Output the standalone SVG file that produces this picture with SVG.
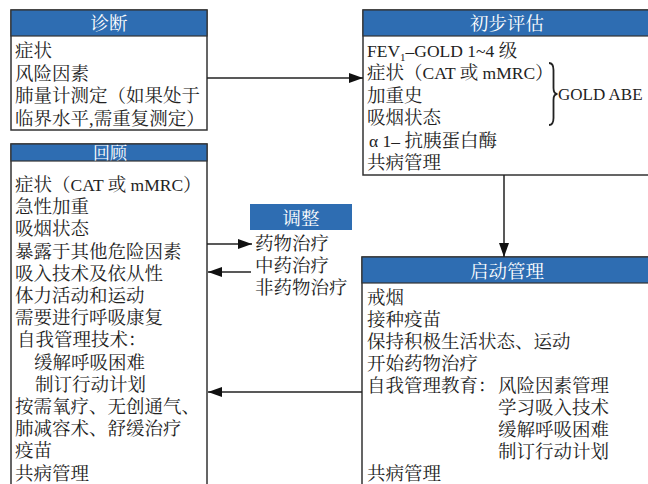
<svg xmlns="http://www.w3.org/2000/svg" width="648" height="484" viewBox="0 0 648 484">
<style>
.box{fill:#ffffff;stroke:#333333;stroke-width:1.5}
.hdr{fill:#2e6db2;stroke:#333333;stroke-width:1.2}
.hdr2{fill:#2e6db2}
.ht{fill:#ffffff;font-family:"Liberation Serif","Noto Serif CJK SC","Noto Sans CJK SC",serif;font-size:18.5px;text-anchor:middle}
.t{fill:#222222;font-family:"Liberation Serif","Noto Serif CJK SC","Noto Sans CJK SC",serif;font-size:18.5px}
.lat{font-size:17.5px}
.conn{stroke:#222222;stroke-width:1.5;fill:none}
</style>
<defs>
<marker id="ah" viewBox="0 0 14 10" refX="14" refY="5" markerWidth="14" markerHeight="10" markerUnits="userSpaceOnUse" orient="auto">
<path d="M0,0 L14,5 L0,10 Z" fill="#111111"/>
</marker>
</defs>
<rect width="648" height="484" fill="#ffffff"/>

<g id="diagnosis">
<rect class="box" x="11" y="10" width="196" height="120"/>
<rect class="hdr" x="11" y="10" width="196" height="26"/>
<text class="ht" x="109" y="30">诊断</text>
<text class="t" x="15" y="57">症状</text>
<text class="t" x="15" y="79.5">风险因素</text>
<text class="t" x="15" y="102">肺量计测定（如果处于</text>
<text class="t" x="15" y="124.5">临界水平,需重复测定）</text>
</g>

<g id="initial-assessment">
<rect class="box" x="363" y="10" width="292" height="165"/>
<rect class="hdr" x="363" y="10" width="292" height="26"/>
<text class="ht" x="507" y="30">初步评估</text>
<text class="t" x="367" y="57"><tspan class="lat">FEV</tspan><tspan font-size="11" dy="4">1</tspan><tspan class="lat" dy="-4">–GOLD 1~4 </tspan>级</text>
<text class="t" x="367" y="79.4">症状（<tspan class="lat">CAT </tspan>或<tspan class="lat"> mMRC</tspan>）</text>
<text class="t" x="367" y="101.8">加重史</text>
<text class="t" x="367" y="124.2">吸烟状态</text>
<text class="t" x="369" y="146.6"><tspan class="lat">α 1– </tspan>抗胰蛋白酶</text>
<text class="t" x="367" y="169">共病管理</text>
<path d="M549,63 Q553.5,63 553.5,70 L553.5,88 Q553.5,94 557.5,94 Q553.5,94 553.5,100 L553.5,118 Q553.5,125 549,125" fill="none" stroke="#222222" stroke-width="1.8"/>
<text class="t" x="558" y="100" style="font-size:17px">GOLD ABE</text>
</g>

<g id="review">
<rect class="box" x="11" y="144" width="196" height="350"/>
<rect class="hdr" x="11" y="144" width="196" height="17"/>
<text class="ht" x="110" y="159" style="font-size:17px">回顾</text>
<text class="t" x="15" y="191">症状（<tspan class="lat">CAT </tspan>或<tspan class="lat"> mMRC</tspan>）</text>
<text class="t" x="15" y="213.2">急性加重</text>
<text class="t" x="15" y="235.4">吸烟状态</text>
<text class="t" x="15" y="257.6">暴露于其他危险因素</text>
<text class="t" x="15" y="279.8">吸入技术及依从性</text>
<text class="t" x="15" y="302">体力活动和运动</text>
<text class="t" x="15" y="324.2">需要进行呼吸康复</text>
<text class="t" x="17" y="346.4">自我管理技术：</text>
<text class="t" x="34" y="368.6">缓解呼吸困难</text>
<text class="t" x="35" y="390.8">制订行动计划</text>
<text class="t" x="15" y="413">按需氧疗、无创通气、</text>
<text class="t" x="15" y="435.2">肺减容术、舒缓治疗</text>
<text class="t" x="15" y="457.4">疫苗</text>
<text class="t" x="15" y="479.6">共病管理</text>
</g>

<g id="adjust">
<rect class="hdr2" x="250" y="204" width="102" height="26"/>
<text class="ht" x="301" y="225">调整</text>
<text class="t" x="255" y="250">药物治疗</text>
<text class="t" x="255" y="272">中药治疗</text>
<text class="t" x="255" y="294">非药物治疗</text>
</g>

<g id="start-management">
<rect class="box" x="362" y="257" width="293" height="240"/>
<rect class="hdr" x="362" y="257" width="293" height="26"/>
<text class="ht" x="507" y="277.5">启动管理</text>
<text class="t" x="367" y="304">戒烟</text>
<text class="t" x="367" y="326">接种疫苗</text>
<text class="t" x="367" y="348">保持积极生活状态、运动</text>
<text class="t" x="367" y="370">开始药物治疗</text>
<text class="t" x="367" y="392">自我管理教育：</text>
<text class="t" x="498" y="392">风险因素管理</text>
<text class="t" x="498" y="414">学习吸入技术</text>
<text class="t" x="498" y="436">缓解呼吸困难</text>
<text class="t" x="498" y="458">制订行动计划</text>
<text class="t" x="367" y="479.6">共病管理</text>
</g>

<g id="connectors">
<line class="conn" x1="207" y1="78" x2="363" y2="78" marker-end="url(#ah)"/>
<line class="conn" x1="504" y1="175" x2="504" y2="257" marker-end="url(#ah)"/>
<line class="conn" x1="362" y1="392" x2="208" y2="392" marker-end="url(#ah)"/>
<line class="conn" x1="207" y1="244" x2="252" y2="244" marker-end="url(#ah)"/>
<line class="conn" x1="251" y1="272" x2="208" y2="272" marker-end="url(#ah)"/>
</g>
</svg>
